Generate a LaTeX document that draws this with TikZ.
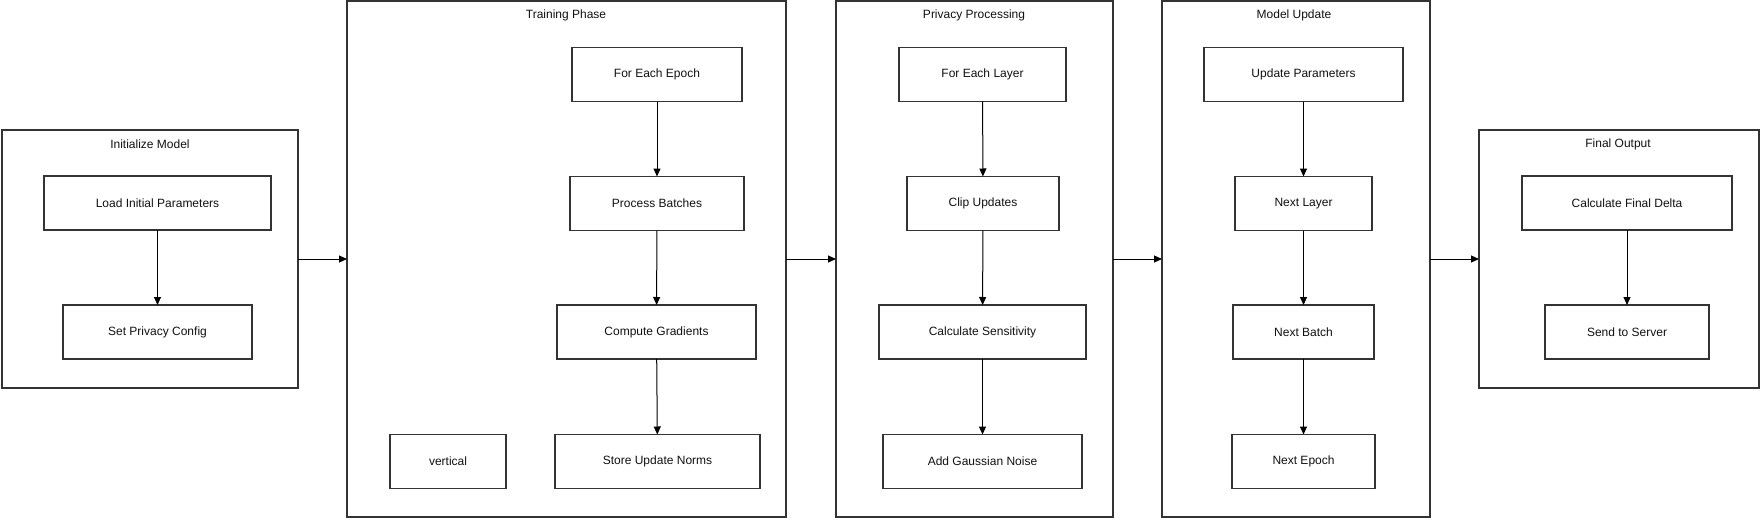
\documentclass[tikz,border=0pt]{standalone}
\usepackage{fontspec}
\setmainfont{Liberation Sans}
\usetikzlibrary{arrows.meta}
\definecolor{edge}{HTML}{333333}
\definecolor{txt}{HTML}{111111}
\tikzset{
  container/.style={draw=edge, line width=1.7pt, inner sep=0pt, outer sep=0pt, fill=white},
  stepbox/.style={draw=edge, line width=1.7pt, inner sep=0pt, outer sep=0pt, minimum height=54pt, text=txt, font=\fontsize{12pt}{14pt}\selectfont},
  title/.style={text=txt, font=\fontsize{12pt}{14pt}\selectfont, inner sep=0pt},
  flow/.style={draw=black, line width=1pt, -{Triangle[length=8pt,width=7pt]}}
}
\begin{document}
\begin{tikzpicture}[x=1pt,y=-1pt]
\useasboundingbox (0,0) rectangle (1760,519);
% containers
\node[container, minimum width=296pt, minimum height=258pt] (init) at (150,259) {};
\node[container, minimum width=439pt, minimum height=516pt] (train) at (566.5,259) {};
\node[container, minimum width=277pt, minimum height=516pt] (priv) at (974.5,259) {};
\node[container, minimum width=268pt, minimum height=516pt] (upd) at (1296,259) {};
\node[container, minimum width=280pt, minimum height=258pt] (final) at (1619,259) {};
% titles
\node[title] (tinit) at (150,144) {Initialize Model};
\node[title] (ttrain) at (566,15) {Training Phase};
\node[title] (tpriv) at (974,15) {Privacy Processing};
\node[title] (tupd) at (1294,15) {Model Update};
\node[title] (tfinal) at (1618,144) {Final Output};
% Initialize Model
\node[stepbox, minimum width=227pt] (load) at (157.5,203) {Load Initial Parameters};
\node[stepbox, minimum width=189pt] (cfg) at (157.5,332) {Set Privacy Config};
% Training Phase
\node[stepbox, minimum width=170pt] (epoch) at (657,74.5) {For Each Epoch};
\node[stepbox, minimum width=174pt] (batches) at (657,203.5) {Process Batches};
\node[stepbox, minimum width=199pt] (grads) at (656.5,332) {Compute Gradients};
\node[stepbox, minimum width=205pt] (norms) at (657.5,461.5) {Store Update Norms};
\node[stepbox, minimum width=116pt] (vert) at (448,461.5) {vertical};
% Privacy Processing
\node[stepbox, minimum width=167pt] (layer) at (982.5,74.5) {For Each Layer};
\node[stepbox, minimum width=152pt] (clip) at (983,203.5) {Clip Updates};
\node[stepbox, minimum width=207pt] (sens) at (982.5,332) {Calculate Sensitivity};
\node[stepbox, minimum width=199pt] (noise) at (982.5,461.5) {Add Gaussian Noise};
% Model Update
\node[stepbox, minimum width=199pt] (params) at (1303.5,74.5) {Update Parameters};
\node[stepbox, minimum width=137pt] (nlayer) at (1303.5,203.5) {Next Layer};
\node[stepbox, minimum width=141pt] (nbatch) at (1303.5,332) {Next Batch};
\node[stepbox, minimum width=143pt] (nepoch) at (1303.5,461.5) {Next Epoch};
% Final Output
\node[stepbox, minimum width=210pt] (delta) at (1627,203) {Calculate Final Delta};
\node[stepbox, minimum width=164pt] (send) at (1627,332) {Send to Server};
% inner arrows
\draw[flow] (load) -- (cfg);
\draw[flow] (epoch) -- (batches);
\draw[flow] (batches) -- (grads);
\draw[flow] (grads) -- (norms);
\draw[flow] (layer) -- (clip);
\draw[flow] (clip) -- (sens);
\draw[flow] (sens) -- (noise);
\draw[flow] (params) -- (nlayer);
\draw[flow] (nlayer) -- (nbatch);
\draw[flow] (nbatch) -- (nepoch);
\draw[flow] (delta) -- (send);
% container arrows
\draw[flow] (init.east) -- (train.west);
\draw[flow] (train.east) -- (priv.west);
\draw[flow] (priv.east) -- (upd.west);
\draw[flow] (upd.east) -- (final.west);
\end{tikzpicture}
\end{document}
